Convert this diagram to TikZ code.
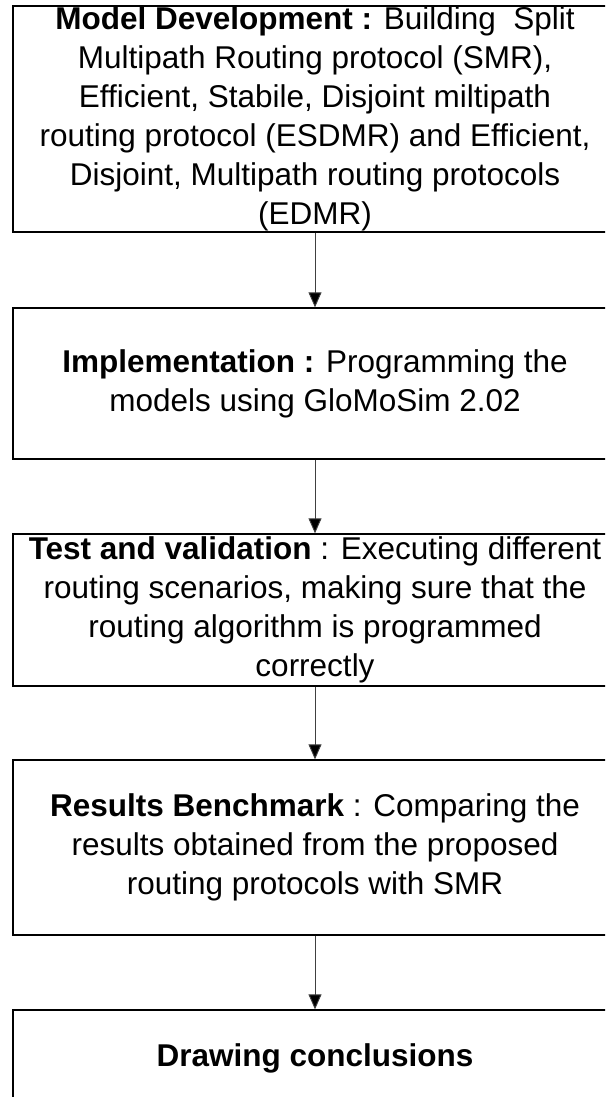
\documentclass[tikz,border=0pt]{standalone}
\usepackage{fontspec}
\setmainfont{Liberation Sans}
\usetikzlibrary{arrows.meta}
\tikzset{
  stepbox/.style={draw=black, line width=1.3pt, minimum width=604pt,
    inner sep=0pt, align=center, font=\fontsize{31.5}{39}\selectfont},
  flow/.style={draw=black!75, line width=0.9pt,
    -{Triangle[width=13pt,length=15pt,fill=black]}}
}
\begin{document}
\begin{tikzpicture}[x=1pt,y=-1pt]
\clip (0,0) rectangle (605,1097);
\fill[white] (0,0) rectangle (605,1097);

\node[stepbox, minimum height=226pt] (b1) at (315,119)
  {\textbf{Model Development :} Building\ \ Split\\
   Multipath Routing protocol (SMR),\\
   Efficient, Stabile, Disjoint miltipath\\
   routing protocol (ESDMR) and Efficient,\\
   Disjoint, Multipath routing protocols\\
   (EDMR)};

\node[stepbox, minimum height=151pt] (b2) at (315,383.5)
  {\textbf{Implementation :} Programming the\\
   models using GloMoSim 2.02};

\node[stepbox, minimum height=152pt] (b3) at (315,610)
  {\textbf{Test and validation} : Executing different\\
   routing scenarios, making sure that the\\
   routing algorithm is programmed\\
   correctly};

\node[stepbox, minimum height=175pt] (b4) at (315,847.5)
  {\textbf{Results Benchmark} : Comparing the\\
   results obtained from the proposed\\
   routing protocols with SMR};

\node[stepbox, minimum height=96pt] (b5) at (315,1058)
  {\textbf{Drawing conclusions}};

\draw[flow] (b1.south) -- (b2.north);
\draw[flow] (b2.south) -- (b3.north);
\draw[flow] (b3.south) -- (b4.north);
\draw[flow] (b4.south) -- (b5.north);
\end{tikzpicture}
\end{document}
